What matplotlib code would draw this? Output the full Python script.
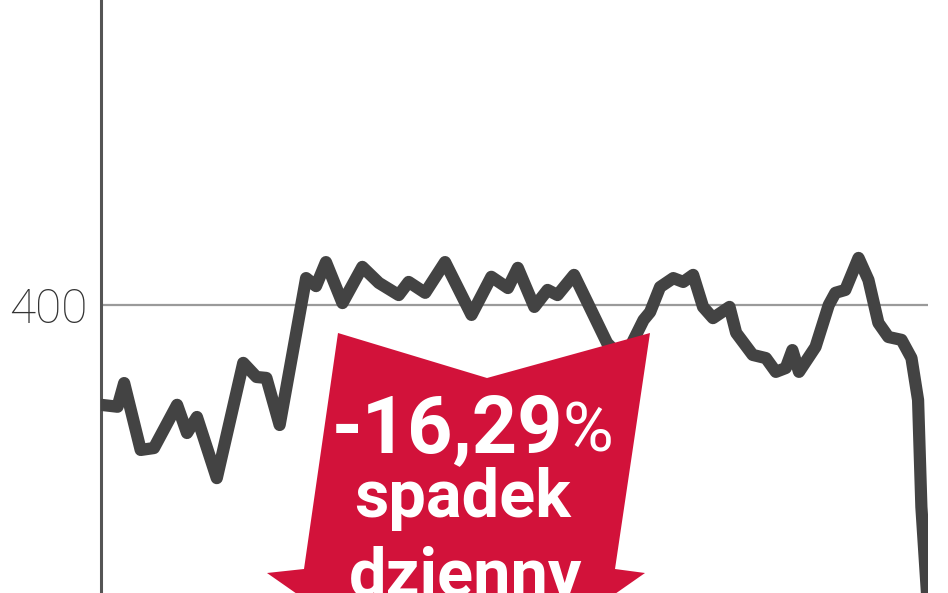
import numpy as np
import matplotlib
matplotlib.use("Agg")
import matplotlib.pyplot as plt
from matplotlib.patches import Polygon

# -------------------------------
# DATA
# -------------------------------
days = [0, 5, 7, 12, 16, 23, 26, 29, 35, 43, 47, 50, 54, 62, 65, 68, 73, 79,
        84, 90, 93, 98, 104, 112, 118, 123, 126, 131, 135, 138, 143, 147,
        153, 158, 164, 166, 169, 173, 176, 179, 182, 185, 190, 192, 197,
        201, 204, 207, 209, 211, 216, 220, 222, 225, 229, 232, 235, 238,
        242, 245, 247, 248, 250]
prices = [368.8, 368.2, 375.6, 354.7, 355.3, 368.8, 360.0, 365.0, 345.9,
          381.9, 377.5, 377.2, 362.5, 408.4, 405.9, 413.4, 400.6, 411.9,
          406.9, 403.1, 407.2, 403.8, 413.4, 396.9, 408.8, 405.3, 411.6,
          399.4, 404.7, 403.1, 409.4, 400.9, 388.1, 382.8, 395.3, 397.8,
          405.6, 408.4, 407.2, 409.4, 399.4, 395.9, 399.4, 391.3, 384.4,
          383.4, 379.1, 380.3, 385.9, 379.1, 386.9, 400.0, 403.8, 404.7,
          414.7, 407.8, 394.4, 390.0, 389.1, 383.4, 370.3, 336.9, 305.0]

y_ticks = [400]
y_tick_labels = ["400"]

drop_value = "-16,29"
drop_lines = ["spadek", "dzienny"]

LINE_COLOR = "#434343"
RED = "#d2123a"

W, H = 948, 593

# -------------------------------
# FIGURE
# -------------------------------
fig = plt.figure(figsize=(W / 100, H / 100), dpi=100)
ax = fig.add_axes([101 / W, 0, (928 - 101) / W, 1])

ax.plot(days, prices, color=LINE_COLOR, lw=8.8,
        solid_joinstyle="round", solid_capstyle="round", zorder=3)

ax.set_xlim(0, 250)
ax.set_ylim(310, 495.3)

ax.set_yticks(y_ticks)
ax.set_yticklabels(y_tick_labels, fontsize=34.5, color="#333333",
                   family="Roboto", fontweight="light")
ax.tick_params(axis="y", length=0, pad=10)
ax.set_xticks([])
ax.grid(axis="y", color="#9a9a9a", lw=1.6)
ax.set_axisbelow(True)

for s in ["top", "right", "bottom"]:
    ax.spines[s].set_visible(False)
ax.spines["left"].set_color("#555555")
ax.spines["left"].set_linewidth(2.2)


# -------------------------------
# RED ARROW (pixel positions -> figure fraction)
# -------------------------------
def fpx(x, y):
    return (x / W, 1 - y / H)


arrow_px = [(338, 333), (487, 378), (650, 333), (615, 569), (645, 573),
            (456, 705), (267, 573), (304, 569)]
arrow = Polygon([fpx(x, y) for x, y in arrow_px], closed=True,
                transform=fig.transFigure, facecolor=RED, edgecolor="none",
                zorder=5, clip_on=False)
fig.patches.append(arrow)

x, y = fpx(563, 452)
fig.text(x, y, drop_value, ha="right", va="baseline", color="white",
         fontsize=57, fontweight="bold", family="Roboto", zorder=6)
fig.text(x, y, "%", ha="left", va="baseline", color="white",
         fontsize=50, fontweight="normal", family="Roboto", zorder=6)

x, y = fpx(462, 517)
fig.text(x, y, drop_lines[0], ha="center", va="baseline", color="white",
         fontsize=48, fontweight="bold", family="Roboto", zorder=6)
x, y = fpx(466, 596)
fig.text(x, y, drop_lines[1], ha="center", va="baseline", color="white",
         fontsize=48, fontweight="bold", family="Roboto", zorder=6)

fig.savefig("out.png", dpi=100)
